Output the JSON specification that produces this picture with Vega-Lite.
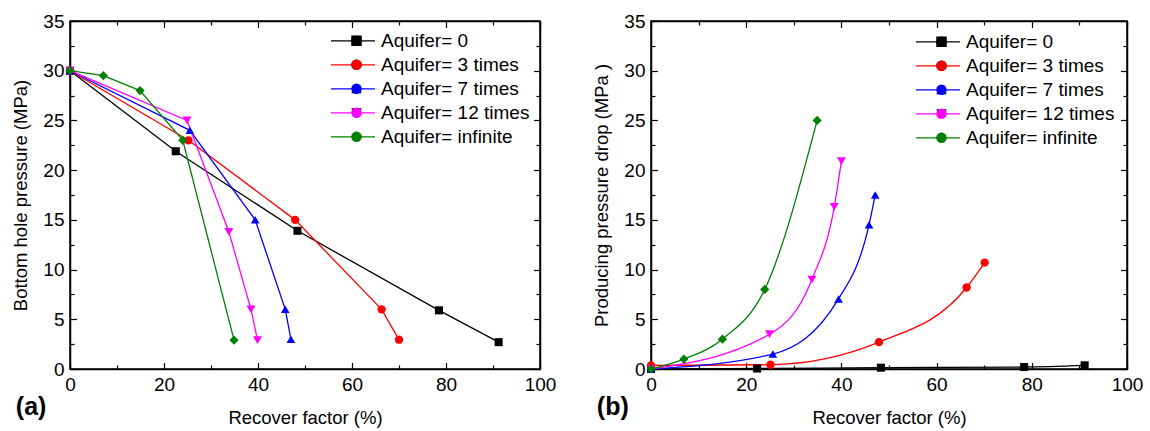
{
  "$schema": "https://vega.github.io/schema/vega-lite/v6.json",
  "padding": {"left": 11, "top": 11, "right": 0, "bottom": 0},
  "background": "white",
  "config": {
    "font": "Liberation Sans",
    "view": {"stroke": "#000", "strokeWidth": 1.5},
    "axis": {"grid": false, "domainColor": "#000", "domainWidth": 1.5, "tickColor": "#000", "tickWidth": 1.2, "labelColor": "#000", "titleColor": "#000", "labelFontSize": 19, "titleFontSize": 18.5, "titleFontWeight": "normal", "labelFont": "Liberation Sans", "titleFont": "Liberation Sans", "labelFlush": false, "labelOverlap": false},
    "legend": {"labelFont": "Liberation Sans", "labelColor": "#000", "labelFontSize": 19, "labelLimit": 400}
  },
  "datasets": {
    "bhp": [
      {"series": "Aquifer= 0", "rf": 0, "p": 30},
      {"series": "Aquifer= 0", "rf": 22.5, "p": 21.9},
      {"series": "Aquifer= 0", "rf": 48.4, "p": 13.9},
      {"series": "Aquifer= 0", "rf": 78.5, "p": 5.9},
      {"series": "Aquifer= 0", "rf": 91.2, "p": 2.7},
      {"series": "Aquifer= 3 times", "rf": 0, "p": 30},
      {"series": "Aquifer= 3 times", "rf": 25.2, "p": 23},
      {"series": "Aquifer= 3 times", "rf": 47.9, "p": 15},
      {"series": "Aquifer= 3 times", "rf": 66.3, "p": 6},
      {"series": "Aquifer= 3 times", "rf": 70, "p": 2.95},
      {"series": "Aquifer= 7 times", "rf": 0, "p": 30},
      {"series": "Aquifer= 7 times", "rf": 25.5, "p": 24},
      {"series": "Aquifer= 7 times", "rf": 39.4, "p": 15},
      {"series": "Aquifer= 7 times", "rf": 45.8, "p": 6},
      {"series": "Aquifer= 7 times", "rf": 47, "p": 3},
      {"series": "Aquifer= 12 times", "rf": 0, "p": 30},
      {"series": "Aquifer= 12 times", "rf": 24.9, "p": 25},
      {"series": "Aquifer= 12 times", "rf": 33.8, "p": 13.8},
      {"series": "Aquifer= 12 times", "rf": 38.5, "p": 6},
      {"series": "Aquifer= 12 times", "rf": 39.9, "p": 2.9},
      {"series": "Aquifer= infinite", "rf": 0, "p": 30},
      {"series": "Aquifer= infinite", "rf": 7.1, "p": 29.5},
      {"series": "Aquifer= infinite", "rf": 14.9, "p": 28},
      {"series": "Aquifer= infinite", "rf": 24, "p": 23},
      {"series": "Aquifer= infinite", "rf": 34.9, "p": 2.9}
    ],
    "drop": [
      {"series": "Aquifer= 0", "rf": 0, "p": 0},
      {"series": "Aquifer= 0", "rf": 22.3, "p": 0.05},
      {"series": "Aquifer= 0", "rf": 48.3, "p": 0.13},
      {"series": "Aquifer= 0", "rf": 78.4, "p": 0.2},
      {"series": "Aquifer= 0", "rf": 91.1, "p": 0.37},
      {"series": "Aquifer= 3 times", "rf": 0, "p": 0.35},
      {"series": "Aquifer= 3 times", "rf": 25.1, "p": 0.43},
      {"series": "Aquifer= 3 times", "rf": 47.9, "p": 2.7},
      {"series": "Aquifer= 3 times", "rf": 66.3, "p": 8.2},
      {"series": "Aquifer= 3 times", "rf": 70.1, "p": 10.7},
      {"series": "Aquifer= 7 times", "rf": 0, "p": 0},
      {"series": "Aquifer= 7 times", "rf": 25.6, "p": 1.5},
      {"series": "Aquifer= 7 times", "rf": 39.4, "p": 7.05},
      {"series": "Aquifer= 7 times", "rf": 45.8, "p": 14.5},
      {"series": "Aquifer= 7 times", "rf": 47.1, "p": 17.5},
      {"series": "Aquifer= 12 times", "rf": 0, "p": 0},
      {"series": "Aquifer= 12 times", "rf": 24.9, "p": 3.5},
      {"series": "Aquifer= 12 times", "rf": 33.8, "p": 9},
      {"series": "Aquifer= 12 times", "rf": 38.5, "p": 16.3},
      {"series": "Aquifer= 12 times", "rf": 40, "p": 20.9},
      {"series": "Aquifer= infinite", "rf": 0, "p": 0},
      {"series": "Aquifer= infinite", "rf": 6.9, "p": 1},
      {"series": "Aquifer= infinite", "rf": 15, "p": 3},
      {"series": "Aquifer= infinite", "rf": 23.9, "p": 8},
      {"series": "Aquifer= infinite", "rf": 34.9, "p": 25}
    ]
  },
  "resolve": {
    "scale": {"stroke": "independent", "fill": "independent", "shape": "independent", "size": "independent"},
    "legend": {"stroke": "independent", "fill": "independent", "shape": "independent"}
  },
  "spacing": 35,
  "hconcat": [
    {
      "width": 470,
      "height": 348,
      "data": {"name": "bhp"},
      "title": {"text": "(a)", "orient": "bottom", "anchor": "start", "frame": "bounds", "fontSize": 25, "fontWeight": "bold", "font": "Liberation Sans", "color": "#000", "offset": 0, "dx": 4, "dy": -32, "baseline": "top"},
      "layer": [
        {
          "mark": {"type": "line", "strokeWidth": 1.3},
          "encoding": {
            "x": {"field": "rf", "type": "quantitative", "scale": {"domain": [0, 100], "nice": false},
              "axis": {"orient": "bottom", "values": [0, 10, 20, 30, 40, 50, 60, 70, 80, 90, 100], "tickSize": {"condition": {"test": "datum.value % 20 === 0", "value": -6.5}, "value": -4}, "labelExpr": "datum.value % 20 === 0 ? datum.label : ''", "labelPadding": 13, "title": "Recover factor (%)", "titlePadding": 11}},
            "y": {"field": "p", "type": "quantitative", "scale": {"domain": [0, 35], "nice": false},
              "axis": {"orient": "left", "values": [0, 2.5, 5, 7.5, 10, 12.5, 15, 17.5, 20, 22.5, 25, 27.5, 30, 32.5, 35], "tickSize": {"condition": {"test": "datum.value % 5 === 0", "value": -6.5}, "value": -4}, "labelExpr": "datum.value % 5 === 0 ? datum.label : ''", "labelPadding": 12.5, "title": "Bottom hole pressure (MPa)", "titlePadding": 12}},
            "stroke": {"field": "series", "type": "nominal",
              "scale": {"domain": ["Aquifer= 0", "Aquifer= 3 times", "Aquifer= 7 times", "Aquifer= 12 times", "Aquifer= infinite"], "range": ["#000000", "#ff0000", "#0000ff", "#ff00ff", "#008000"]},
              "legend": {"orient": "none", "legendX": 260, "legendY": 9, "title": null, "symbolType": "stroke", "symbolSize": 1936, "symbolStrokeWidth": 1.3, "labelOffset": 5, "clipHeight": 21.6, "rowPadding": 2, "padding": 0}}
          }
        },
        {
          "mark": {"type": "point", "filled": true, "opacity": 1},
          "encoding": {
            "x": {"field": "rf", "type": "quantitative",
              "axis": {"orient": "top", "values": [0, 10, 20, 30, 40, 50, 60, 70, 80, 90, 100], "tickSize": {"condition": {"test": "datum.value % 20 === 0", "value": -6.5}, "value": -4}, "labels": false, "title": null}},
            "y": {"field": "p", "type": "quantitative",
              "axis": {"orient": "right", "values": [0, 2.5, 5, 7.5, 10, 12.5, 15, 17.5, 20, 22.5, 25, 27.5, 30, 32.5, 35], "tickSize": {"condition": {"test": "datum.value % 5 === 0", "value": -6.5}, "value": -4}, "labels": false, "title": null}},
            "size": {"field": "series", "type": "nominal", "sort": ["Aquifer= 0", "Aquifer= 3 times", "Aquifer= 7 times", "Aquifer= 12 times", "Aquifer= infinite"],
              "scale": {"range": [65, 85, 150, 150, 120]}, "legend": null},
            "fill": {"field": "series", "type": "nominal", "sort": ["Aquifer= 0", "Aquifer= 3 times", "Aquifer= 7 times", "Aquifer= 12 times", "Aquifer= infinite"],
              "scale": {"range": ["#000000", "#ff0000", "#0000ff", "#ff00ff", "#008000"]},
              "legend": {"orient": "none", "legendX": 277, "legendY": 9, "title": null, "symbolSize": 110, "symbolStrokeWidth": 0, "labelExpr": "''", "clipHeight": 21.6, "rowPadding": 2, "padding": 0}},
            "shape": {"field": "series", "type": "nominal", "sort": ["Aquifer= 0", "Aquifer= 3 times", "Aquifer= 7 times", "Aquifer= 12 times", "Aquifer= infinite"],
              "scale": {"range": ["square", "circle", "triangle-up", "triangle-down", "diamond"]},
              "legend": {"orient": "none", "legendX": 277, "legendY": 9, "title": null, "symbolSize": 110, "symbolStrokeWidth": 0, "labelExpr": "''", "clipHeight": 21.6, "rowPadding": 2, "padding": 0}}
          }
        }
      ],
      "resolve": {"axis": {"x": "independent", "y": "independent"}}
    },
    {
      "width": 476,
      "height": 348,
      "data": {"name": "drop"},
      "title": {"text": "(b)", "orient": "bottom", "anchor": "start", "frame": "bounds", "fontSize": 25, "fontWeight": "bold", "font": "Liberation Sans", "color": "#000", "offset": 0, "dx": 4, "dy": -32, "baseline": "top"},
      "layer": [
        {
          "mark": {"type": "line", "strokeWidth": 1.3, "interpolate": "monotone"},
          "encoding": {
            "x": {"field": "rf", "type": "quantitative", "scale": {"domain": [0, 100], "nice": false},
              "axis": {"orient": "bottom", "values": [0, 10, 20, 30, 40, 50, 60, 70, 80, 90, 100], "tickSize": {"condition": {"test": "datum.value % 20 === 0", "value": -6.5}, "value": -4}, "labelExpr": "datum.value % 20 === 0 ? datum.label : ''", "labelPadding": 13, "title": "Recover factor (%)", "titlePadding": 11}},
            "y": {"field": "p", "type": "quantitative", "scale": {"domain": [0, 35], "nice": false},
              "axis": {"orient": "left", "values": [0, 2.5, 5, 7.5, 10, 12.5, 15, 17.5, 20, 22.5, 25, 27.5, 30, 32.5, 35], "tickSize": {"condition": {"test": "datum.value % 5 === 0", "value": -6.5}, "value": -4}, "labelExpr": "datum.value % 5 === 0 ? datum.label : ''", "labelPadding": 12.5, "title": "Producing pressure drop (MPa )", "titlePadding": 12}},
            "stroke": {"field": "series", "type": "nominal",
              "scale": {"domain": ["Aquifer= 0", "Aquifer= 3 times", "Aquifer= 7 times", "Aquifer= 12 times", "Aquifer= infinite"], "range": ["#000000", "#ff0000", "#0000ff", "#ff00ff", "#008000"]},
              "legend": {"orient": "none", "legendX": 264, "legendY": 10, "title": null, "symbolType": "stroke", "symbolSize": 1936, "symbolStrokeWidth": 1.3, "labelOffset": 5, "clipHeight": 21.6, "rowPadding": 2, "padding": 0}}
          }
        },
        {
          "mark": {"type": "point", "filled": true, "opacity": 1},
          "encoding": {
            "x": {"field": "rf", "type": "quantitative",
              "axis": {"orient": "top", "values": [0, 10, 20, 30, 40, 50, 60, 70, 80, 90, 100], "tickSize": {"condition": {"test": "datum.value % 20 === 0", "value": -6.5}, "value": -4}, "labels": false, "title": null}},
            "y": {"field": "p", "type": "quantitative",
              "axis": {"orient": "right", "values": [0, 2.5, 5, 7.5, 10, 12.5, 15, 17.5, 20, 22.5, 25, 27.5, 30, 32.5, 35], "tickSize": {"condition": {"test": "datum.value % 5 === 0", "value": -6.5}, "value": -4}, "labels": false, "title": null}},
            "size": {"field": "series", "type": "nominal", "sort": ["Aquifer= 0", "Aquifer= 3 times", "Aquifer= 7 times", "Aquifer= 12 times", "Aquifer= infinite"],
              "scale": {"range": [65, 85, 150, 150, 120]}, "legend": null},
            "fill": {"field": "series", "type": "nominal", "sort": ["Aquifer= 0", "Aquifer= 3 times", "Aquifer= 7 times", "Aquifer= 12 times", "Aquifer= infinite"],
              "scale": {"range": ["#000000", "#ff0000", "#0000ff", "#ff00ff", "#008000"]},
              "legend": {"orient": "none", "legendX": 281, "legendY": 10, "title": null, "symbolSize": 110, "symbolStrokeWidth": 0, "labelExpr": "''", "clipHeight": 21.6, "rowPadding": 2, "padding": 0}},
            "shape": {"field": "series", "type": "nominal", "sort": ["Aquifer= 0", "Aquifer= 3 times", "Aquifer= 7 times", "Aquifer= 12 times", "Aquifer= infinite"],
              "scale": {"range": ["square", "circle", "triangle-up", "triangle-down", "diamond"]},
              "legend": {"orient": "none", "legendX": 281, "legendY": 10, "title": null, "symbolSize": 110, "symbolStrokeWidth": 0, "labelExpr": "''", "clipHeight": 21.6, "rowPadding": 2, "padding": 0}}
          }
        }
      ],
      "resolve": {"axis": {"x": "independent", "y": "independent"}}
    }
  ]
}
